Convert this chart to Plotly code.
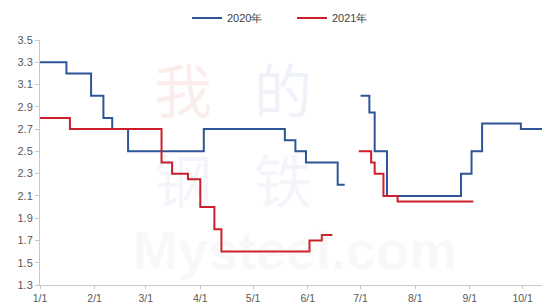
import plotly.graph_objects as go

# 2020 series (step changes), plotted on a common month/day axis
dates_2020 = ["2020-01-01", "2020-01-16", "2020-01-30", "2020-02-06", "2020-02-11",
              "2020-02-20", "2020-04-03", "2020-05-19", "2020-05-25", "2020-05-31",
              "2020-06-18", "2020-06-22", "2020-06-26", "2020-07-01", "2020-07-06",
              "2020-07-09", "2020-07-16", "2020-08-27", "2020-09-02", "2020-09-08",
              "2020-09-30", "2020-10-12"]
values_2020 = [3.3, 3.2, 3.0, 2.8, 2.7,
               2.5, 2.7, 2.6, 2.5, 2.4,
               2.2, 2.2, None, 3.0, 2.85,
               2.5, 2.1, 2.3, 2.5, 2.75,
               2.7, 2.7]

# 2021 series
dates_2021 = ["2020-01-01", "2020-01-18", "2020-03-10", "2020-03-16", "2020-03-25",
              "2020-04-01", "2020-04-09", "2020-04-13", "2020-06-02", "2020-06-09",
              "2020-06-15", "2020-06-22", "2020-06-30", "2020-07-07", "2020-07-09",
              "2020-07-14", "2020-07-22", "2020-09-03"]
values_2021 = [2.8, 2.7, 2.4, 2.3, 2.25,
               2.0, 1.8, 1.6, 1.7, 1.75,
               1.75, None, 2.5, 2.4, 2.3,
               2.1, 2.05, 2.05]

tick_dates = ["2020-01-01", "2020-02-01", "2020-03-01", "2020-04-01", "2020-05-01",
              "2020-06-01", "2020-07-01", "2020-08-01", "2020-09-01", "2020-10-01"]
tick_labels = ["1/1", "2/1", "3/1", "4/1", "5/1", "6/1", "7/1", "8/1", "9/1", "10/1"]

watermark_chars = ["我", "的", "钢", "铁"]
watermark_site = "Mysteel.com"

L, B, T = 40, 22, 40
PW, PH = 542 - L, 307 - T - B

fig = go.Figure()

# faint watermark (behind the lines)
wm_pos = [(183, 88, "rgba(225,80,80,0.10)"), (283, 88, "rgba(80,110,190,0.09)"),
          (183, 178, "rgba(80,110,190,0.07)"), (283, 178, "rgba(80,110,190,0.07)")]
for ch, (px, py, col) in zip(watermark_chars, wm_pos):
    fig.add_annotation(text=ch, x=(px - L) / PW, y=(307 - B - py) / PH,
                       xref="paper", yref="paper", showarrow=False,
                       xanchor="center", yanchor="middle",
                       font=dict(size=58, color=col, family="Noto Sans CJK SC"))
fig.add_annotation(text="<b>" + watermark_site + "</b>", x=(295 - L) / PW, y=(307 - B - 250) / PH,
                   xref="paper", yref="paper", showarrow=False,
                   xanchor="center", yanchor="middle",
                   font=dict(size=54, color="rgba(160,160,160,0.08)", family="Liberation Sans"))

fig.add_trace(go.Scatter(x=dates_2020, y=values_2020, mode="lines", name="2020年",
                         line=dict(color="#2E5597", width=2, shape="hv"),
                         connectgaps=False))
fig.add_trace(go.Scatter(x=dates_2021, y=values_2021, mode="lines", name="2021年",
                         line=dict(color="#CC1F2A", width=2, shape="hv"),
                         connectgaps=False))

fig.update_layout(
    width=542, height=307,
    margin=dict(l=L, r=0, t=T, b=B, autoexpand=False),
    paper_bgcolor="white", plot_bgcolor="white",
    font=dict(family="Liberation Sans, Arial, sans-serif", size=11, color="#595959"),
    showlegend=True,
    legend=dict(orientation="h", x=(187 - L) / PW, xanchor="left", y=1 + 22 / PH, yanchor="middle",
                font=dict(size=11, color="#404040"), itemwidth=30,
                entrywidth=60, entrywidthmode="pixels", bgcolor="rgba(0,0,0,0)"),
    xaxis=dict(range=["2020-01-01", "2020-10-12"], tickmode="array",
               tickvals=tick_dates, ticktext=tick_labels, showgrid=False,
               showline=True, linecolor="#c8c8c8", linewidth=1, automargin=False,
               ticks="outside", ticklen=3, tickcolor="#c8c8c8", zeroline=False,
               tickfont=dict(size=10.5, color="#595959")),
    yaxis=dict(range=[1.3, 3.5], tick0=1.3, dtick=0.2, tickformat=".1f",
               showgrid=False, showline=True, linecolor="#c8c8c8", linewidth=1,
               automargin=False,
               ticks="outside", ticklen=4, tickcolor="#c8c8c8", zeroline=False,
               tickfont=dict(size=11, color="#595959")),
)

fig.write_html("out.html", config={"displayModeBar": False},
               post_script="document.body.style.margin='0';document.body.style.overflow='hidden';")
